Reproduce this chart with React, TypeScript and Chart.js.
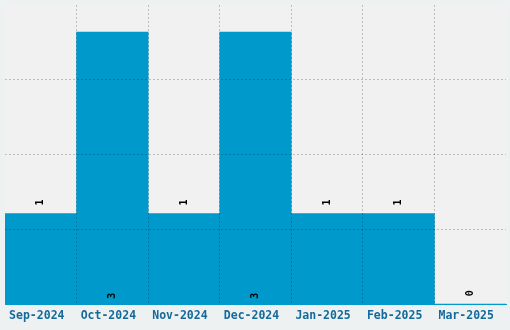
import React, { useEffect, useRef } from "react";
import { Chart, registerables } from "chart.js";

Chart.register(...registerables);

const categories = ["Sep-2024", "Oct-2024", "Nov-2024", "Dec-2024", "Jan-2025", "Feb-2025", "Mar-2025"];
const values = [1, 3, 1, 3, 1, 1, 0];
const yTicks = [0, 0.825, 1.65, 2.475, 3.3];

const BAR = "#0099cc";
const GRID = "rgba(0,0,0,0.21)";
const NONE = "rgba(0,0,0,0)";

const bgPlugin = {
  id: "bgPlugin",
  beforeDraw(chart: any) {
    const { ctx, chartArea, width, height } = chart;
    ctx.save();
    ctx.fillStyle = "#edf1f2";
    ctx.fillRect(0, 0, width, height);
    ctx.fillStyle = "#f1f1f1";
    ctx.fillRect(chartArea.left, chartArea.top, chartArea.right - chartArea.left + 1, chartArea.bottom - chartArea.top);
    ctx.restore();
  },
};

const labelPlugin = {
  id: "labelPlugin",
  afterDraw(chart: any) {
    const { ctx } = chart;
    const meta = chart.getDatasetMeta(0);
    const data = chart.data.datasets[0].data as number[];
    const maxV = Math.max(...data);
    ctx.save();
    ctx.fillStyle = "#000";
    ctx.font = "bold 10px 'DejaVu Sans Mono', monospace";
    ctx.textAlign = "center";
    ctx.textBaseline = "middle";
    meta.data.forEach((el: any, i: number) => {
      const v = data[i];
      const y = v === maxV ? el.base - 8 : el.y - 11;
      ctx.save();
      ctx.translate(el.x, y);
      ctx.rotate(-Math.PI / 2);
      ctx.fillText(String(v), 0, 0);
      ctx.restore();
    });
    ctx.restore();
  },
};

export default function App() {
  const ref = useRef<HTMLCanvasElement | null>(null);
  useEffect(() => {
    document.body.style.margin = "0";
    const chart = new Chart(ref.current as HTMLCanvasElement, {
      type: "bar",
      data: {
        labels: categories,
        datasets: [
          {
            data: values,
            backgroundColor: BAR,
            borderWidth: 0,
            barPercentage: 1,
            categoryPercentage: 1,
          },
        ],
      },
      options: {
        animation: false,
        responsive: false,
        maintainAspectRatio: false,
        layout: { padding: { left: 5, top: 5, right: 4, bottom: 2 } },
        plugins: { legend: { display: false }, tooltip: { enabled: false } },
        scales: {
          x: {
            z: 1,
            border: { display: true, color: BAR, width: 1, dash: [2, 2], z: 1 },
            grid: {
              z: 1,
              offset: true,
              drawTicks: false,
              lineWidth: 1,
              color: (c: any) =>
                c.index === undefined || c.index === 0 || c.index >= categories.length ? NONE : GRID,
            },
            ticks: {
              color: "#156a9c",
              font: { family: "'DejaVu Sans Mono', monospace", weight: "bold", size: 11.5 },
              padding: 5,
              labelOffset: -4,
              maxRotation: 0,
              autoSkip: false,
            },
          },
          y: {
            z: 1,
            min: 0,
            max: 3.3,
            afterBuildTicks: (scale: any) => {
              scale.ticks = yTicks.map((v) => ({ value: v }));
            },
            border: { display: false, dash: [2, 2] },
            grid: {
              z: 1,
              drawTicks: false,
              lineWidth: 1,
              color: (c: any) =>
                c.index === undefined || c.index === 0 || c.index >= yTicks.length - 1 ? NONE : GRID,
            },
            ticks: { display: false },
          },
        },
      },
      plugins: [bgPlugin, labelPlugin],
    } as any);
    return () => chart.destroy();
  }, []);
  return <canvas ref={ref} width={510} height={330} style={{ display: "block" }} />;
}
